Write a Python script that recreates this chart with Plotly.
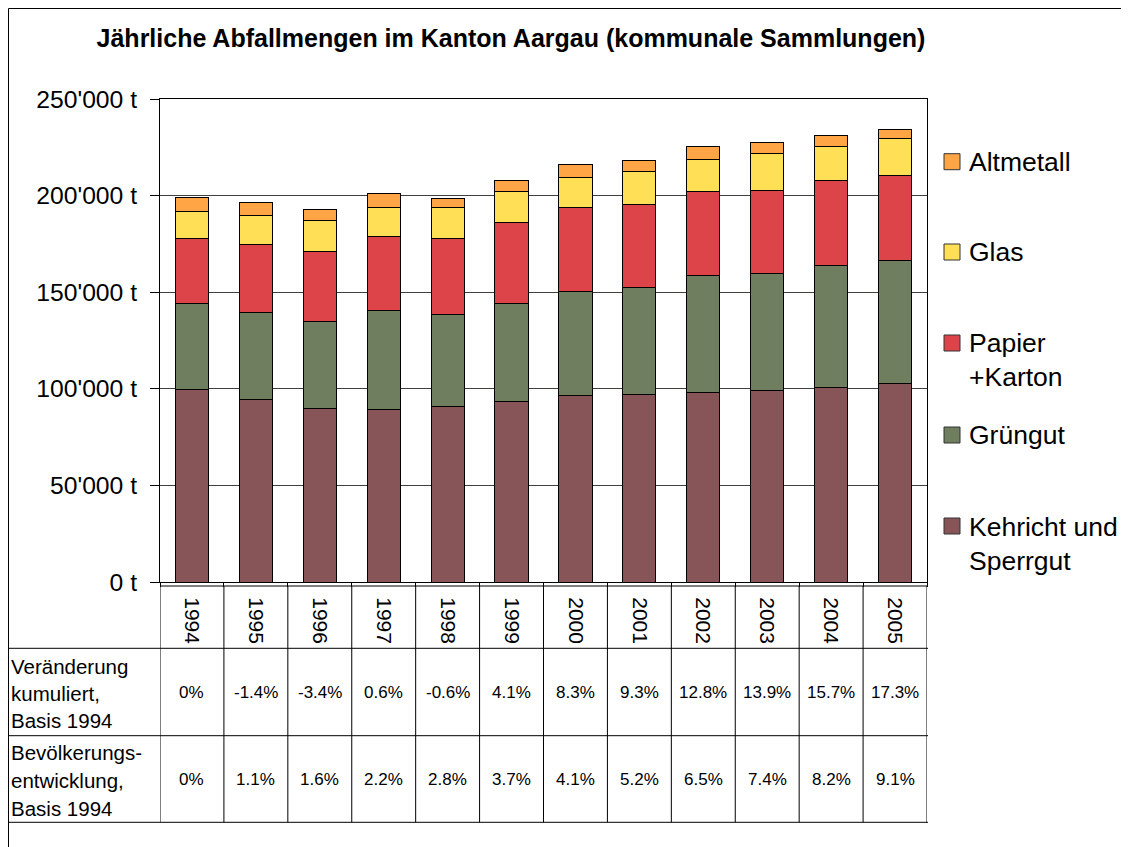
import plotly.graph_objects as go

# ---------------- data ----------------
years = ["1994", "1995", "1996", "1997", "1998", "1999", "2000", "2001", "2002", "2003", "2004", "2005"]

kehricht = [99400, 94500, 89700, 89500, 90700, 93300, 96300, 97100, 98000, 99000, 100800, 102600]
gruengut = [44900, 44800, 45000, 50900, 47900, 50800, 54200, 55200, 60900, 60900, 62900, 63900]
papier = [33400, 35400, 36500, 38300, 39100, 42100, 43200, 43300, 43100, 43000, 44000, 44000]
glas = [14200, 15200, 16000, 15200, 16200, 15800, 15900, 17000, 16900, 19000, 17800, 18800]
altmetall = [7200, 6500, 5700, 7300, 4500, 5900, 6600, 5500, 6600, 5700, 5700, 4800]

series_names = ["Kehricht und<br>Sperrgut", "Grüngut", "Papier<br>+Karton", "Glas", "Altmetall"]
series_values = [kehricht, gruengut, papier, glas, altmetall]
series_colors = ["#875458", "#6E7E5E", "#DD4449", "#FFDF55", "#FFA545"]

tick_vals = [0, 50000, 100000, 150000, 200000, 250000]
tick_text = ["0 t", "50'000 t", "100'000 t", "150'000 t", "200'000 t", "250'000 t"]

veraenderung = ["0%", "-1.4%", "-3.4%", "0.6%", "-0.6%", "4.1%", "8.3%", "9.3%", "12.8%", "13.9%", "15.7%", "17.3%"]
bevoelkerung = ["0%", "1.1%", "1.6%", "2.2%", "2.8%", "3.7%", "4.1%", "5.2%", "6.5%", "7.4%", "8.2%", "9.1%"]
row_labels = [["Veränderung", "kumuliert,", "Basis 1994"],
              ["Bevölkerungs-", "entwicklung,", "Basis 1994"]]

title_text = "Jährliche Abfallmengen im Kanton Aargau (kommunale Sammlungen)"

# ---------------- layout geometry ----------------
# the page body adds an 8px offset; geometry below is given in screen pixels
OFF = 8
FW, FH = 1129 - OFF, 847 - OFF
L, R, T, B = 160 - OFF, 927 - OFF, 99 - OFF, 582 - OFF
W, H = R - L, B - T
FONT = "Arial, 'Liberation Sans', Helvetica, sans-serif"


def px_x(p):
    return (p - OFF - L) / W


def px_y(p):
    return (B - (p - OFF)) / H


fig = go.Figure()
for name, vals, col in zip(series_names, series_values, series_colors):
    fig.add_trace(go.Bar(
        x=years, y=vals, name=name.replace("<br>", " "),
        marker=dict(color=col, line=dict(color="#000000", width=1)),
        showlegend=False,
    ))

shapes = []
annotations = []

# outer chart border
shapes.append(dict(type="rect", xref="paper", yref="paper",
                   x0=px_x(8.5), x1=px_x(1121.5), y0=px_y(8.5), y1=px_y(900),
                   line=dict(color="#000000", width=1), fillcolor="rgba(0,0,0,0)", layer="below"))

# table grid
table_top, r1, r2, r3 = 586, 648.3, 735.7, 822.3
shapes.append(dict(type="line", xref="paper", yref="paper",
                   x0=px_x(160), x1=px_x(928), y0=px_y(table_top), y1=px_y(table_top),
                   line=dict(color="#000000", width=1)))
for yy in (r1, r2, r3):
    shapes.append(dict(type="line", xref="paper", yref="paper",
                       x0=px_x(8.5), x1=px_x(928), y0=px_y(yy), y1=px_y(yy),
                       line=dict(color="#000000", width=1)))
for i in range(len(years) + 1):
    shapes.append(dict(type="line", xref="x", yref="paper",
                       x0=i - 0.5, x1=i - 0.5, y0=px_y(table_top), y1=px_y(r3),
                       line=dict(color="#000000", width=1)))

# table values
for row_vals, yc in ((veraenderung, (r1 + r2) / 2), (bevoelkerung, (r2 + r3) / 2)):
    for i, v in enumerate(row_vals):
        annotations.append(dict(xref="x", yref="paper", x=i, y=px_y(yc), text=v,
                                showarrow=False, xanchor="center", yanchor="middle",
                                font=dict(family=FONT, size=17, color="#000000")))

# table row labels
label_lines_y = [[666.7, 693.5, 720.3], [752.0, 780.5, 808.5]]
for lines, ys in zip(row_labels, label_lines_y):
    for txt, yy in zip(lines, ys):
        annotations.append(dict(xref="paper", yref="paper", x=px_x(9), y=px_y(yy), text=txt,
                                showarrow=False, xanchor="left", yanchor="middle",
                                font=dict(family=FONT, size=20.5, color="#000000")))

# legend (top to bottom: Altmetall ... Kehricht)
legend_centers = [161.7, 252.0, 343.0, 435.0, 526.0]
for idx, yc in zip(range(len(series_names) - 1, -1, -1), legend_centers):
    name = series_names[idx]
    col = series_colors[idx]
    shapes.append(dict(type="rect", xref="paper", yref="paper",
                       x0=px_x(944), x1=px_x(960), y0=px_y(yc - 8), y1=px_y(yc + 8),
                       fillcolor=col, line=dict(color="#333333", width=1)))
    nlines = name.count("<br>") + 1
    ty = yc + (nlines - 1) * 17.5
    annotations.append(dict(xref="paper", yref="paper", x=px_x(967), y=px_y(ty), text=name,
                            showarrow=False, xanchor="left", yanchor="middle", align="left",
                            font=dict(family=FONT, size=26.5, color="#000000")))

fig.update_layout(
    width=FW, height=FH,
    margin=dict(l=L, r=FW - R, t=T, b=FH - B, pad=0),
    paper_bgcolor="#FFFFFF", plot_bgcolor="#FFFFFF",
    barmode="stack", bargap=0.48,
    title=dict(text="<b>" + title_text + "</b>", x=(511 - OFF) / FW, xref="container", xanchor="center",
               y=1 - (38 - OFF) / FH, yref="container", yanchor="middle",
               font=dict(family=FONT, size=25, color="#000000")),
    font=dict(family=FONT, color="#000000"),
    shapes=shapes, annotations=annotations,
    showlegend=False,
)

fig.update_yaxes(range=[0, 250000], tickvals=tick_vals, ticktext=tick_text,
                 ticks="outside", ticklen=9, tickcolor="#000000", tickwidth=1,
                 showgrid=True, gridcolor="#404040", gridwidth=1,
                 showline=True, linecolor="#000000", linewidth=1, mirror=True,
                 zeroline=False, ticklabelstandoff=8,
                 tickfont=dict(family=FONT, size=24.7, color="#000000"))
fig.update_xaxes(type="category", range=[-0.5, len(years) - 0.5], tickangle=90,
                 ticks="outside", ticklen=4, tickson="boundaries",
                 tickcolor="#000000", showgrid=False,
                 showline=True, linecolor="#000000", linewidth=1, mirror=True,
                 ticklabelstandoff=10,
                 tickfont=dict(family=FONT, size=21, color="#000000"))

fig.write_html("out.html")
